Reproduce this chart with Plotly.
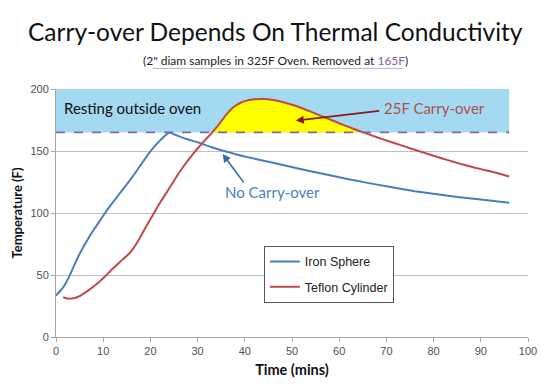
import plotly.graph_objects as go

# Data
iron_t = [0, 1, 2, 3, 4, 5, 6, 7, 8, 9, 10, 11, 12, 13, 14, 15, 16, 17, 18, 19, 20, 21, 22, 23, 24,
          25, 26, 28, 30, 33, 36, 40, 46, 52, 56, 62, 66, 70, 76, 80, 86, 90, 96]
iron_temp = [33.5, 37.5, 43, 50.5, 59, 67, 74, 80.5, 86.5, 92, 97.8, 103.3, 108.4, 113.3, 118.2, 123.1, 128.2, 133.5, 139, 144.5, 149.7, 154.3, 158.4, 162, 165,
             163.5, 162, 159.3, 157, 153, 149.6, 145.5, 140.5, 135.3, 132, 127.3, 124.3, 121.5, 117.5, 115.5, 112.5, 110.8, 108.3]

teflon_t = [1.5, 2.5, 4, 5, 7, 9, 10.7, 12, 14, 15, 16, 17, 18, 19, 20, 21, 22, 23, 24, 25, 26, 27, 28, 29, 30,
            31, 32, 33, 34, 35, 36, 37, 38, 39, 40, 42, 44, 46, 48, 50, 52, 54, 56, 58, 60, 62, 64, 66,
            68, 70, 72, 74, 76, 78, 80, 82, 84, 86, 88, 90, 92, 94, 96]
teflon_temp = [32, 31, 31.5, 33, 38, 44, 50, 55, 62, 65.5, 69.5, 75, 81.5, 88.5, 95, 101.5, 108, 114, 120, 126, 132, 137.5, 142.5, 147.5, 152,
               156.3, 160.5, 164.5, 169, 174, 179, 183.3, 186.5, 188.7, 190.2, 191.7, 192, 191.2, 189.5, 187.3, 184.7, 181.7, 178.5, 175.5, 172.4, 169.4, 166.5, 163.8,
               161.1, 158.5, 156, 153.5, 151, 148.6, 146.2, 143.8, 141.5, 139.3, 137.3, 135.4, 133.6, 131.6, 129.5]

removed_temp = 165
band_top = 200
band_end = 96

x_ticks = [0, 10, 20, 30, 40, 50, 60, 70, 80, 90, 100]
y_ticks = [0, 50, 100, 150, 200]

# Build the carry-over (yellow) region from the Teflon data above 165F
fill_x, fill_y = [], []
for i in range(1, len(teflon_t)):
    t0, t1 = teflon_t[i - 1], teflon_t[i]
    v0, v1 = teflon_temp[i - 1], teflon_temp[i]
    if (v0 - removed_temp) * (v1 - removed_temp) < 0:
        tc = t0 + (removed_temp - v0) * (t1 - t0) / (v1 - v0)
        fill_x.append(tc); fill_y.append(removed_temp)
    if v1 >= removed_temp:
        fill_x.append(t1); fill_y.append(v1)
fill_x.append(fill_x[0]); fill_y.append(fill_y[0])

BLUE = "#4a7ebb"
RED = "#be4b48"

fig = go.Figure()
fig.add_shape(type="rect", x0=0, x1=band_end, y0=removed_temp, y1=band_top,
              fillcolor="#a4d9f2", line_width=0, layer="below")
fig.add_trace(go.Scatter(x=fill_x, y=fill_y, fill="toself", fillcolor="#ffff00",
                         line=dict(width=0), mode="lines", showlegend=False, hoverinfo="skip"))
fig.add_shape(type="line", x0=0, x1=band_end, y0=removed_temp, y1=removed_temp,
              line=dict(color="#7f68a8", width=1.8, dash="dash"))
fig.add_trace(go.Scatter(x=iron_t, y=iron_temp, mode="lines", name="Iron Sphere", legendgroup="a",
                         line=dict(color=BLUE, width=2, shape="spline", smoothing=0.4)))
fig.add_trace(go.Scatter(x=teflon_t, y=teflon_temp, mode="lines", name="Teflon Cylinder", legendgroup="b",
                         line=dict(color=RED, width=2, shape="spline", smoothing=0.4)))

fig.add_annotation(x=1.3, y=185, xref="x", yref="y", text="Resting outside oven", showarrow=False,
                   xanchor="left", font=dict(family="Lato", size=15, color="#111111"))
fig.add_annotation(x=50.8, y=174.5, ax=68.8, ay=182.5, xref="x", yref="y", axref="x", ayref="y",
                   text="", showarrow=True, arrowhead=2, arrowsize=1, arrowwidth=1.6, arrowcolor="#8b1a1a")
fig.add_annotation(x=69.0, y=185, xref="x", yref="y", text="25F Carry-over", showarrow=False,
                   xanchor="left", font=dict(family="Lato", size=15, color="#b05050"))
fig.add_annotation(x=35.3, y=147.5, ax=40, ay=123.5, xref="x", yref="y", axref="x", ayref="y",
                   text="", showarrow=True, arrowhead=2, arrowsize=1, arrowwidth=1.6, arrowcolor="#2e6aa0")
fig.add_annotation(x=35.3, y=117, xref="x", yref="y", text="No Carry-over", showarrow=False,
                   xanchor="left", font=dict(family="Lato", size=15, color="#4a7ebb"))

# Titles (centred on the page)
page_center = (275 - 56) / 472
fig.add_annotation(x=page_center, y=1.0, xref="paper", yref="paper", text="Carry-over Depends On Thermal Conductivity",
                   showarrow=False, yanchor="middle", yshift=58,
                   font=dict(family="Lato", size=24.5, color="#111111"))
fig.add_annotation(x=page_center, y=1.0, xref="paper", yref="paper",
                   text='(2" diam samples in 325F Oven. Removed at <span style="color:#8064a2">165F</span>)',
                   showarrow=False, yanchor="middle", yshift=29,
                   font=dict(family="Lato", size=12, color="#222222"))
fig.add_shape(type="line", xref="paper", yref="paper", x0=0.205, x1=0.738, y0=1.083, y1=1.083,
              line=dict(color="#b8b4c8", width=1))

fig.update_layout(
    width=550, height=387,
    margin=dict(l=56, r=22, t=89, b=48),
    paper_bgcolor="white", plot_bgcolor="white",
    showlegend=True,
    legend=dict(x=0.4404, y=0.367, xanchor="left", yanchor="top",
                bordercolor="#555555", borderwidth=1, bgcolor="white",
                font=dict(family="Liberation Sans", size=12.5, color="#222222"),
                itemwidth=30, tracegroupgap=6, entrywidth=106, entrywidthmode="pixels"),
    xaxis=dict(range=[0, 100], tickvals=x_ticks, showgrid=False, showline=True, linecolor="#a6a6a6",
               ticks="outside", ticklen=4, tickcolor="#a6a6a6", zeroline=False,
               tickfont=dict(family="Liberation Sans", size=11, color="#505050"),
               title=dict(text="<b>Time (mins)</b>", font=dict(family="Lato", size=14.5, color="#111111"), standoff=8)),
    yaxis=dict(range=[0, 200], tickvals=y_ticks, showgrid=True, gridcolor="#c0c0c0", showline=True,
               linecolor="#a6a6a6", ticks="outside", ticklen=4, tickcolor="#a6a6a6", zeroline=False,
               tickfont=dict(family="Liberation Sans", size=11, color="#505050"),
               title=dict(text="<b>Temperature (F)</b>", font=dict(family="Lato", size=13, color="#111111"), standoff=4)),
)

fig.write_html("out.html", config={"displayModeBar": False},
               post_script="document.body.style.margin='0';")
